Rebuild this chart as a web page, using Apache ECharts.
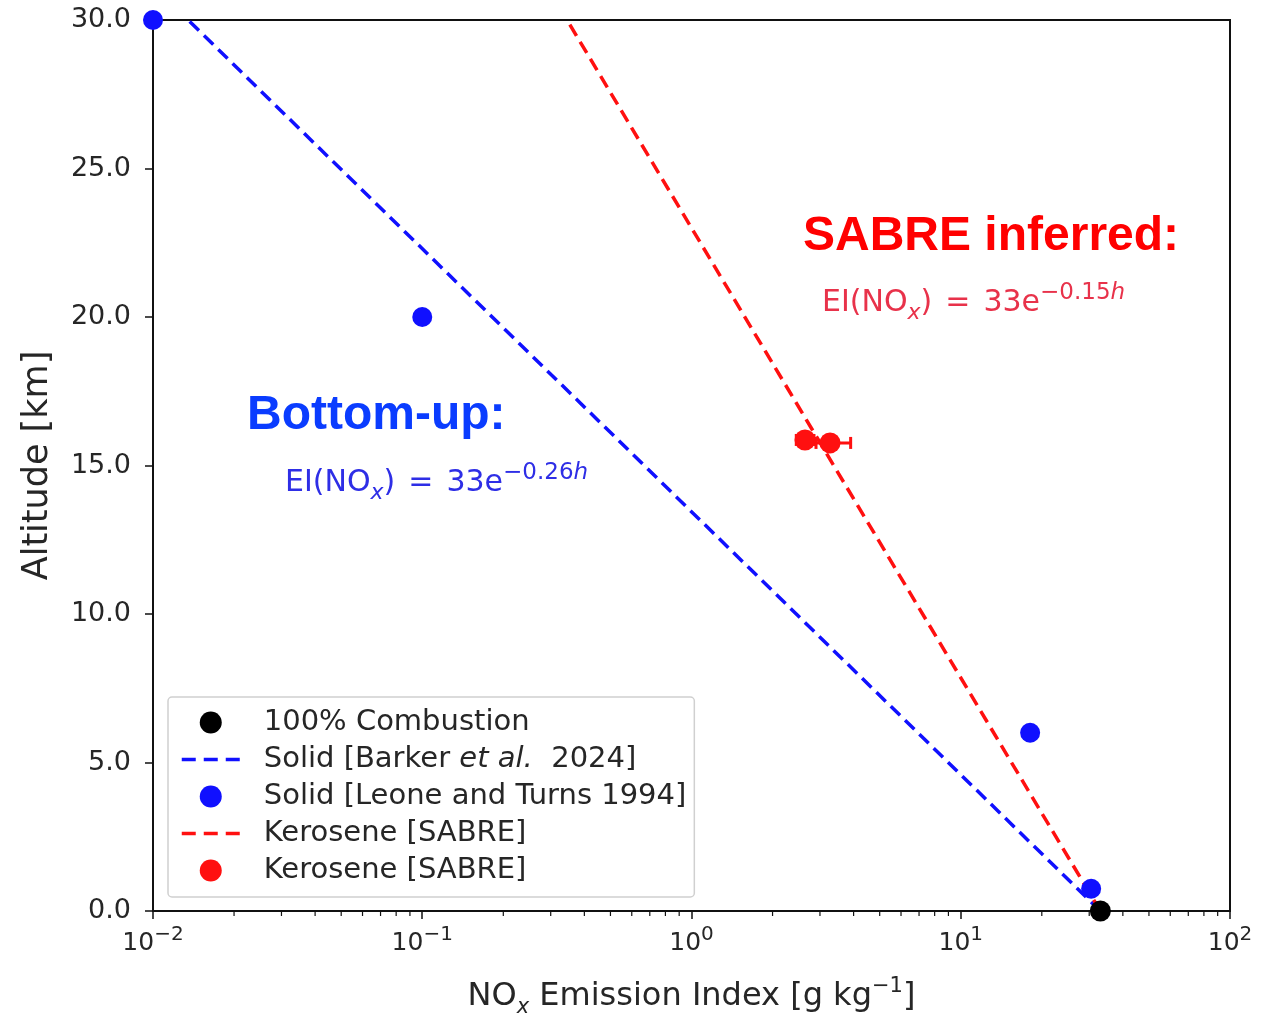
<!DOCTYPE html>
<html><head><meta charset="utf-8">
<script src="https://cdn.jsdelivr.net/npm/echarts@6/dist/echarts.min.js"></script>
<style>html,body{margin:0;padding:0;background:#fff}#c{width:1279px;height:1014px}</style>
</head><body><div id="c"></div>
<script>
// ---- data ----
const combustion = [[33, 0]];
const barkerLine = [[33, 0], [0.0135, 30]];          // EI = 33 e^{-0.26 h}
const leoneTurns = [[0.01, 30], [0.1, 20], [18.1, 6.0], [30.5, 0.75]];
const sabreLine = [[33, 0], [0.345, 30]];            // EI = 33 e^{-0.15 h}
const sabreX = [2.64, 3.27];
const sabreY = [15.86, 15.76];
const sabreErrLow = [2.45, 2.9];
const sabreErrHigh = [2.85, 3.9];
const xMajorTicks = [0.01, 0.1, 1, 10, 100];
const xMinorTicks = [0.02,0.03,0.04,0.05,0.06,0.07,0.08,0.09,
                     0.2,0.3,0.4,0.5,0.6,0.7,0.8,0.9,
                     2,3,4,5,6,7,8,9,
                     20,30,40,50,60,70,80,90];
const yTickLabels = ['0.0','5.0','10.0','15.0','20.0','25.0','30.0'];
const legendNames = ['100% Combustion', 'Solid [Barker et al. 2024]', 'Solid [Leone and Turns 1994]', 'Kerosene [SABRE]', 'Kerosene [SABRE] '];
const lineLegendNames = ['Solid [Barker et al. 2024]', 'Kerosene [SABRE]'];

const sabrePoints = sabreX.map((x, i) => [x, sabreY[i]]);
const sabreErr = sabreX.map((x, i) => [x, sabreY[i], sabreErrLow[i], sabreErrHigh[i]]);

const FONT = "'DejaVu Sans', sans-serif";
const TXT = '#262626';
const BLUE = '#1010ff';
const RED = '#ff1010';
const DASH = [13, 7];

const chart = echarts.init(document.getElementById('c'), null, {renderer: 'canvas'});

const supRich = {
  b: {fontSize: 25, fontFamily: FONT, color: TXT, lineHeight: 36},
  s: {fontSize: 20, fontFamily: FONT, color: TXT, lineHeight: 18, verticalAlign: 'top'}
};

function eqText(color, coef) {
  return {
    text: '{n|EI(NO}{sub|x}{n|)}{eq|=}{n|33e}{sup|−' + coef + '}{supi|h}',
    rich: {
      n: {fontSize: 30, fontFamily: FONT, fill: color, lineHeight: 42},
      eq: {fontSize: 30, fontFamily: FONT, fill: color, lineHeight: 42, padding: [0, 13, 0, 13]},
      sub: {fontSize: 22, fontFamily: FONT, fontStyle: 'italic', fill: color, lineHeight: 20, verticalAlign: 'bottom'},
      sup: {fontSize: 23, fontFamily: FONT, fill: color, lineHeight: 22, verticalAlign: 'top'},
      supi: {fontSize: 23, fontFamily: FONT, fontStyle: 'italic', fill: color, lineHeight: 22, verticalAlign: 'top'}
    },
    verticalAlign: 'middle', align: 'left'
  };
}

const option = {
  backgroundColor: '#fff',
  animation: false,
  grid: {left: 153, right: 49, top: 20, bottom: 103, containLabel: false, outerBoundsMode: 'none',
         show: true, borderColor: '#111', borderWidth: 2, backgroundColor: 'transparent'},
  xAxis: {
    type: 'log', logBase: 10, min: 0.01, max: 100,
    axisLine: {show: true, lineStyle: {color: '#111', width: 2}},
    axisTick: {show: true, inside: false, length: 8, lineStyle: {color: '#111', width: 1.5}},
    splitLine: {show: false},
    axisLabel: {
      margin: 14,
      formatter: v => {
        const e = Math.round(Math.log10(v));
        return '{b|10}{s|' + (e < 0 ? '−' + (-e) : e) + '}';
      },
      rich: supRich
    },
    name: '{n|NO}{sub|x}{n| Emission Index [g kg}{sup|−1}{n|]}',
    nameLocation: 'middle', nameGap: 65,
    nameTextStyle: {
      rich: {
        n: {fontSize: 32, fontFamily: FONT, color: TXT, lineHeight: 42},
        sub: {fontSize: 21, fontFamily: FONT, fontStyle: 'italic', color: TXT, lineHeight: 20, verticalAlign: 'bottom'},
        sup: {fontSize: 21, fontFamily: FONT, color: TXT, lineHeight: 20, verticalAlign: 'top'}
      }
    }
  },
  yAxis: {
    type: 'value', min: 0, max: 30, interval: 5,
    axisLine: {show: true, lineStyle: {color: '#111', width: 2}},
    axisTick: {show: true, inside: false, length: 8, lineStyle: {color: '#111', width: 1.5}},
    splitLine: {show: false},
    axisLabel: {margin: 22, fontSize: 27, fontFamily: FONT, color: TXT, formatter: v => yTickLabels[Math.round(v / 5)]},
    name: 'Altitude [km]', nameLocation: 'middle', nameGap: 98, nameRotate: 90,
    nameTextStyle: {fontSize: 35, fontFamily: FONT, color: TXT}
  },
  legend: {
    orient: 'vertical', left: 168, top: 697,
    data: legendNames.map(n => lineLegendNames.indexOf(n) >= 0
      ? {name: n, itemStyle: {opacity: 0}, lineStyle: {width: 3.5, type: [14, 8]}}
      : {name: n}),
    backgroundColor: '#fff', borderColor: '#d0d0d0', borderWidth: 1.5, borderRadius: 4,
    padding: [11, 8, 12, 12],
    itemWidth: 58, itemHeight: 22, itemGap: 8,
    selectedMode: false,
    formatter: name => {
      if (name.indexOf('Barker') >= 0) return '{n|Solid [Barker }{i|et al.}{n|  2024]}';
      return '{n|' + name.trim() + '}';
    },
    textStyle: {
      padding: [0, 0, 0, 19],
      rich: {
        n: {fontSize: 29, fontFamily: FONT, color: TXT, lineHeight: 26},
        i: {fontSize: 29, fontFamily: FONT, fontStyle: 'italic', color: TXT, lineHeight: 26}
      }
    }
  },
  series: [
    {
      type: 'custom', name: 'minorTicks', silent: true, z: 1,
      data: xMinorTicks.map(v => [v, 0]),
      renderItem: (params, api) => {
        const p = api.coord([api.value(0), 0]);
        return {type: 'line', shape: {x1: p[0], y1: p[1], x2: p[0], y2: p[1] + 5}, style: {stroke: '#111', lineWidth: 1.2}};
      }
    },
    {
      type: 'line', name: 'Solid [Barker et al. 2024]', data: barkerLine,
      symbol: 'none', showSymbol: false, color: BLUE, lineStyle: {color: BLUE, width: 3.5, type: DASH}, z: 3
    },
    {
      type: 'line', name: 'Kerosene [SABRE]', data: sabreLine,
      symbol: 'none', showSymbol: false, color: RED, lineStyle: {color: RED, width: 3.5, type: DASH}, z: 3
    },
    {
      type: 'scatter', name: 'Solid [Leone and Turns 1994]', data: leoneTurns,
      symbol: 'circle', symbolSize: 20, clip: false, itemStyle: {color: BLUE, opacity: 1}, z: 4
    },
    {
      type: 'custom', name: 'sabreErr', silent: true, z: 5,
      data: sabreErr,
      renderItem: (params, api) => {
        const y = api.value(1);
        const a = api.coord([api.value(2), y]);
        const b = api.coord([api.value(3), y]);
        const st = {stroke: RED, lineWidth: 3};
        return {type: 'group', children: [
          {type: 'line', shape: {x1: a[0], y1: a[1], x2: b[0], y2: b[1]}, style: st},
          {type: 'line', shape: {x1: a[0], y1: a[1] - 6, x2: a[0], y2: a[1] + 6}, style: st},
          {type: 'line', shape: {x1: b[0], y1: b[1] - 6, x2: b[0], y2: b[1] + 6}, style: st}
        ]};
      }
    },
    {
      type: 'scatter', name: 'Kerosene [SABRE] ', data: sabrePoints,
      symbol: 'circle', symbolSize: 21, clip: false, itemStyle: {color: RED, opacity: 1}, z: 6
    },
    {
      type: 'scatter', name: '100% Combustion', data: combustion,
      symbol: 'circle', symbolSize: 21, clip: false, itemStyle: {color: '#000', opacity: 1}, z: 7
    }
  ],
  graphic: [
    {type: 'text', x: 803, y: 237, z: 10, style: {text: 'SABRE inferred:', font: "bold 48px 'Liberation Sans', Arial, sans-serif", fill: '#ff0000', verticalAlign: 'middle', align: 'left'}},
    {type: 'text', x: 822, y: 303, z: 10, style: eqText('#e8324a', '0.15')},
    {type: 'text', x: 247, y: 416, z: 10, style: {text: 'Bottom-up:', font: "bold 48px 'Liberation Sans', Arial, sans-serif", fill: '#0a3cff', verticalAlign: 'middle', align: 'left'}},
    {type: 'text', x: 285, y: 483, z: 10, style: eqText('#2e2ee6', '0.26')}
  ]
};
chart.setOption(option);
</script>
</body></html>
